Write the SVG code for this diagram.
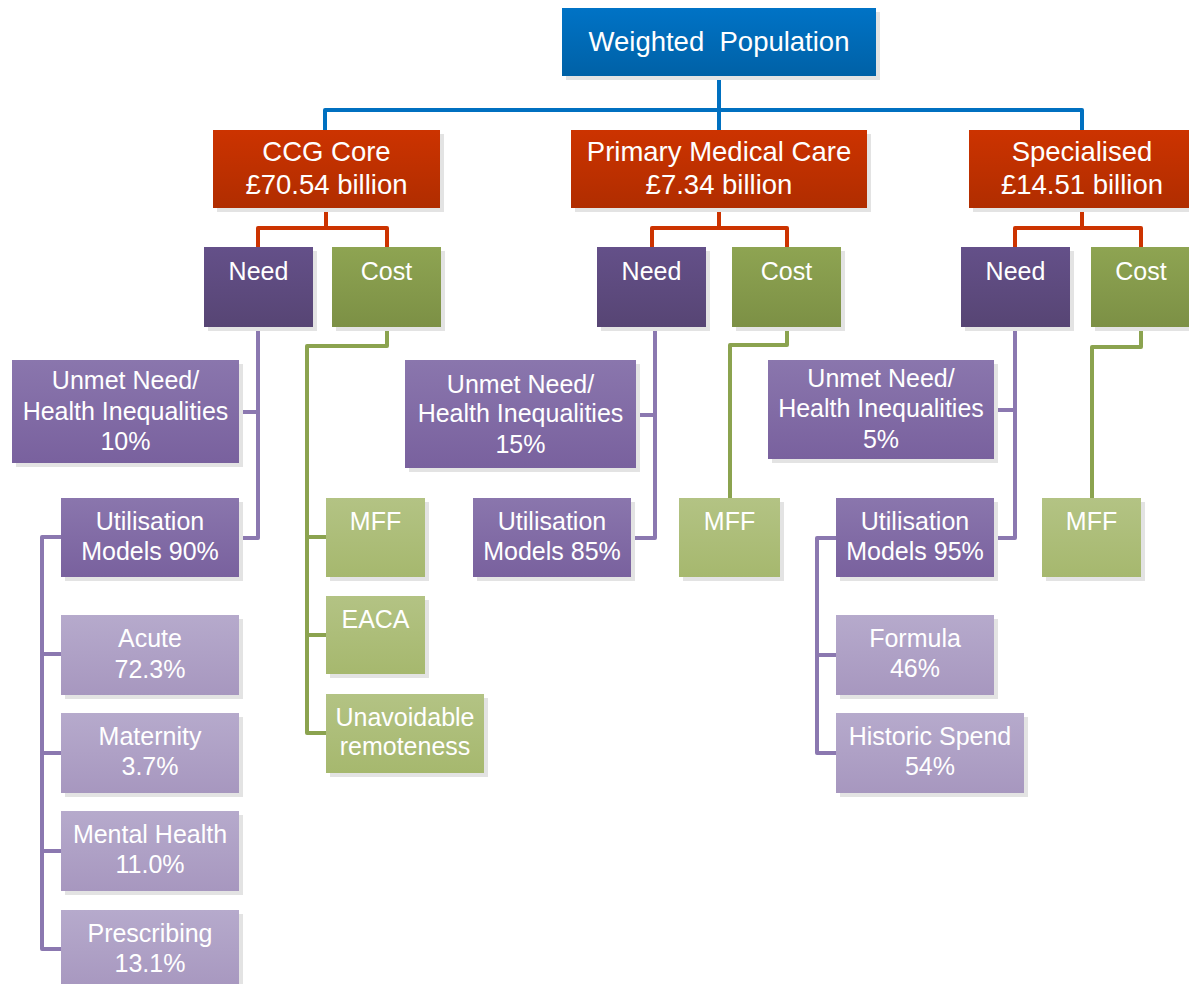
<svg xmlns="http://www.w3.org/2000/svg" width="1189" height="984" viewBox="0 0 1189 984">
<defs>
<linearGradient id="gBlue" x1="0" y1="0" x2="0" y2="1"><stop offset="0" stop-color="#0073C6"/><stop offset="1" stop-color="#0061A6"/></linearGradient>
<linearGradient id="gRed" x1="0" y1="0" x2="0" y2="1"><stop offset="0" stop-color="#CC3300"/><stop offset="1" stop-color="#B02D00"/></linearGradient>
<linearGradient id="gNeed" x1="0" y1="0" x2="0" y2="1"><stop offset="0" stop-color="#645089"/><stop offset="1" stop-color="#574574"/></linearGradient>
<linearGradient id="gCost" x1="0" y1="0" x2="0" y2="1"><stop offset="0" stop-color="#8EA452"/><stop offset="1" stop-color="#7C9045"/></linearGradient>
<linearGradient id="gMid" x1="0" y1="0" x2="0" y2="1"><stop offset="0" stop-color="#8A76AD"/><stop offset="1" stop-color="#79619E"/></linearGradient>
<linearGradient id="gLight" x1="0" y1="0" x2="0" y2="1"><stop offset="0" stop-color="#B6AACC"/><stop offset="1" stop-color="#A797BF"/></linearGradient>
<linearGradient id="gLGreen" x1="0" y1="0" x2="0" y2="1"><stop offset="0" stop-color="#B3C384"/><stop offset="1" stop-color="#A6B86E"/></linearGradient>
</defs>
<style>
.sh{fill:#E3E3E3}
.t{fill:#FFFFFF;font-family:"Liberation Sans",Arial,sans-serif;text-anchor:middle}
.big{font-size:27.5px}
.sm{font-size:25px}
.pre{white-space:pre}
.c{fill:none;stroke-width:4;stroke-linejoin:round;stroke-linecap:round}
.cb{stroke:#0070C0}
.cr{stroke:#CC3300}
.cp{stroke:#8B78B0}
.cg{stroke:#8BA34F}
</style>
<rect width="1189" height="984" fill="#FFFFFF"/>
<g id="connectors">
<path class="c cb" d="M719,76 V130 M325,130 V110 H1082 V130"/>
<path class="c cr" d="M326,208 V228 M258,247 V228 H387 V247"/>
<path class="c cr" d="M719,208 V228 M652,247 V228 H787 V247"/>
<path class="c cr" d="M1082,208 V228 M1015,247 V228 H1141 V247"/>
<path class="c cp" d="M258,327 V538 H239 M258,412 H239"/>
<path class="c cp" d="M655,327 V538 H631 M655,415 H636"/>
<path class="c cp" d="M1015,327 V538 H994 M1015,410 H994"/>
<path class="c cp" d="M61,537 H42 V949 H61 M42,654 H61 M42,753 H61 M42,851 H61"/>
<path class="c cp" d="M836,538 H817 V753 H836 M817,655 H836"/>
<path class="c cg" d="M387,327 V346 H307 V733 H326 M307,537 H326 M307,635 H326"/>
<path class="c cg" d="M787,327 V345 H730 V498"/>
<path class="c cg" d="M1141,327 V347 H1092 V498"/>
</g>
<g id="weighted-population">
<rect class="sh" x="566" y="12" width="314" height="68"/>
<rect x="562" y="8" width="314" height="68" fill="url(#gBlue)"/>
<text class="t big pre" x="719" y="51" xml:space="preserve">Weighted  Population</text>
</g>
<g id="ccg-core">
<rect class="sh" x="217" y="134" width="227" height="78"/>
<rect x="213" y="130" width="227" height="78" fill="url(#gRed)"/>
<text class="t big" x="326.5" y="161">CCG Core</text>
<text class="t big" x="326.5" y="194">£70.54 billion</text>
</g>
<g id="primary-medical-care">
<rect class="sh" x="575" y="134" width="296" height="78"/>
<rect x="571" y="130" width="296" height="78" fill="url(#gRed)"/>
<text class="t big" x="719" y="161">Primary Medical Care</text>
<text class="t big" x="719" y="194">£7.34 billion</text>
</g>
<g id="specialised">
<rect class="sh" x="973" y="134" width="226" height="78"/>
<rect x="969" y="130" width="226" height="78" fill="url(#gRed)"/>
<text class="t big" x="1082" y="161">Specialised</text>
<text class="t big" x="1082" y="194">£14.51 billion</text>
</g>
<g id="ccg-need">
<rect class="sh" x="208" y="251" width="109" height="80"/>
<rect x="204" y="247" width="109" height="80" fill="url(#gNeed)"/>
<text class="t sm" x="258.5" y="280">Need</text>
</g>
<g id="ccg-cost">
<rect class="sh" x="336" y="251" width="109" height="80"/>
<rect x="332" y="247" width="109" height="80" fill="url(#gCost)"/>
<text class="t sm" x="386.5" y="280">Cost</text>
</g>
<g id="pmc-need">
<rect class="sh" x="601" y="251" width="109" height="80"/>
<rect x="597" y="247" width="109" height="80" fill="url(#gNeed)"/>
<text class="t sm" x="651.5" y="280">Need</text>
</g>
<g id="pmc-cost">
<rect class="sh" x="736" y="251" width="109" height="80"/>
<rect x="732" y="247" width="109" height="80" fill="url(#gCost)"/>
<text class="t sm" x="786.5" y="280">Cost</text>
</g>
<g id="spec-need">
<rect class="sh" x="965" y="251" width="109" height="80"/>
<rect x="961" y="247" width="109" height="80" fill="url(#gNeed)"/>
<text class="t sm" x="1015.5" y="280">Need</text>
</g>
<g id="spec-cost">
<rect class="sh" x="1095" y="251" width="100" height="80"/>
<rect x="1091" y="247" width="100" height="80" fill="url(#gCost)"/>
<text class="t sm" x="1141" y="280">Cost</text>
</g>
<g id="ccg-unmet">
<rect class="sh" x="16" y="364" width="227" height="103"/>
<rect x="12" y="360" width="227" height="103" fill="url(#gMid)"/>
<text class="t sm" x="125.5" y="389">Unmet Need/</text>
<text class="t sm" x="125.5" y="420">Health Inequalities</text>
<text class="t sm" x="125.5" y="450">10%</text>
</g>
<g id="ccg-utilisation">
<rect class="sh" x="65" y="502" width="178" height="79"/>
<rect x="61" y="498" width="178" height="79" fill="url(#gMid)"/>
<text class="t sm" x="150" y="530">Utilisation</text>
<text class="t sm" x="150" y="560">Models 90%</text>
</g>
<g id="acute">
<rect class="sh" x="65" y="619" width="178" height="80"/>
<rect x="61" y="615" width="178" height="80" fill="url(#gLight)"/>
<text class="t sm" x="150" y="647">Acute</text>
<text class="t sm" x="150" y="678">72.3%</text>
</g>
<g id="maternity">
<rect class="sh" x="65" y="717" width="178" height="80"/>
<rect x="61" y="713" width="178" height="80" fill="url(#gLight)"/>
<text class="t sm" x="150" y="745">Maternity</text>
<text class="t sm" x="150" y="775">3.7%</text>
</g>
<g id="mental-health">
<rect class="sh" x="65" y="815" width="178" height="80"/>
<rect x="61" y="811" width="178" height="80" fill="url(#gLight)"/>
<text class="t sm" x="150" y="843">Mental Health</text>
<text class="t sm" x="150" y="873">11.0%</text>
</g>
<g id="prescribing">
<rect class="sh" x="65" y="914" width="178" height="80"/>
<rect x="61" y="910" width="178" height="80" fill="url(#gLight)"/>
<text class="t sm" x="150" y="942">Prescribing</text>
<text class="t sm" x="150" y="972">13.1%</text>
</g>
<g id="ccg-mff">
<rect class="sh" x="330" y="502" width="99" height="79"/>
<rect x="326" y="498" width="99" height="79" fill="url(#gLGreen)"/>
<text class="t sm" x="375.5" y="530">MFF</text>
</g>
<g id="ccg-eaca">
<rect class="sh" x="330" y="600" width="99" height="78"/>
<rect x="326" y="596" width="99" height="78" fill="url(#gLGreen)"/>
<text class="t sm" x="375.5" y="628">EACA</text>
</g>
<g id="ccg-remoteness">
<rect class="sh" x="330" y="698" width="158" height="79"/>
<rect x="326" y="694" width="158" height="79" fill="url(#gLGreen)"/>
<text class="t sm" x="405" y="726">Unavoidable</text>
<text class="t sm" x="405" y="755">remoteness</text>
</g>
<g id="pmc-unmet">
<rect class="sh" x="409" y="364" width="231" height="108"/>
<rect x="405" y="360" width="231" height="108" fill="url(#gMid)"/>
<text class="t sm" x="520.5" y="393">Unmet Need/</text>
<text class="t sm" x="520.5" y="422">Health Inequalities</text>
<text class="t sm" x="520.5" y="453">15%</text>
</g>
<g id="pmc-utilisation">
<rect class="sh" x="477" y="502" width="158" height="79"/>
<rect x="473" y="498" width="158" height="79" fill="url(#gMid)"/>
<text class="t sm" x="552" y="530">Utilisation</text>
<text class="t sm" x="552" y="560">Models 85%</text>
</g>
<g id="pmc-mff">
<rect class="sh" x="683" y="502" width="101" height="79"/>
<rect x="679" y="498" width="101" height="79" fill="url(#gLGreen)"/>
<text class="t sm" x="729.5" y="530">MFF</text>
</g>
<g id="spec-unmet">
<rect class="sh" x="772" y="364" width="226" height="99"/>
<rect x="768" y="360" width="226" height="99" fill="url(#gMid)"/>
<text class="t sm" x="881" y="387">Unmet Need/</text>
<text class="t sm" x="881" y="417">Health Inequalities</text>
<text class="t sm" x="881" y="448">5%</text>
</g>
<g id="spec-utilisation">
<rect class="sh" x="840" y="502" width="158" height="79"/>
<rect x="836" y="498" width="158" height="79" fill="url(#gMid)"/>
<text class="t sm" x="915" y="530">Utilisation</text>
<text class="t sm" x="915" y="560">Models 95%</text>
</g>
<g id="spec-mff">
<rect class="sh" x="1046" y="502" width="99" height="79"/>
<rect x="1042" y="498" width="99" height="79" fill="url(#gLGreen)"/>
<text class="t sm" x="1091.5" y="530">MFF</text>
</g>
<g id="formula">
<rect class="sh" x="840" y="619" width="158" height="80"/>
<rect x="836" y="615" width="158" height="80" fill="url(#gLight)"/>
<text class="t sm" x="915" y="647">Formula</text>
<text class="t sm" x="915" y="677">46%</text>
</g>
<g id="historic-spend">
<rect class="sh" x="840" y="717" width="188" height="80"/>
<rect x="836" y="713" width="188" height="80" fill="url(#gLight)"/>
<text class="t sm" x="930" y="745">Historic Spend</text>
<text class="t sm" x="930" y="775">54%</text>
</g>
</svg>
